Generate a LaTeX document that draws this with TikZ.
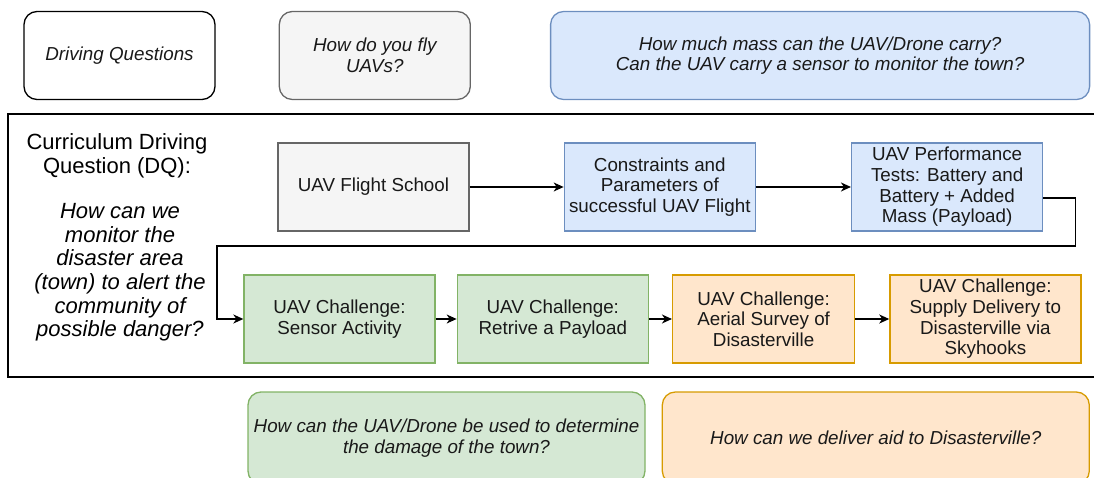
\documentclass[tikz,border=0pt]{standalone}
\usepackage{fontspec}
\setmainfont{Liberation Sans}
\usetikzlibrary{positioning,arrows.meta}
\definecolor{mygreyfill}{HTML}{F5F5F5}
\definecolor{mygreyline}{HTML}{666666}
\definecolor{mybluefill}{HTML}{DAE8FC}
\definecolor{myblueline}{HTML}{6C8EBF}
\definecolor{mygreenfill}{HTML}{D5E8D4}
\definecolor{mygreenline}{HTML}{82B366}
\definecolor{myorangefill}{HTML}{FFE6CC}
\definecolor{myorangeline}{HTML}{D79B00}
\newcommand*\boxfont{\fontsize{18.8}{20.7}\selectfont}
\newcommand*\titlefont{\fontsize{22}{23.6}\selectfont}
\tikzstyle{card}=[draw,line width=1.3pt,minimum width=191pt,minimum height=88pt,inner sep=2pt,align=center,font=\boxfont,text=black!90]
\tikzstyle{ask}=[card,rounded corners=13pt,font=\boxfont\itshape]
\tikzstyle{greybox}=[fill=mygreyfill,draw=mygreyline]
\tikzstyle{bluebox}=[fill=mybluefill,draw=myblueline]
\tikzstyle{greenbox}=[fill=mygreenfill,draw=mygreenline]
\tikzstyle{orangebox}=[fill=myorangefill,draw=myorangeline]
\tikzstyle{arr}=[-{Stealth[length=10pt,width=9pt,inset=3pt]},line width=1.4pt]

\begin{document}
\begin{tikzpicture}[x=1pt,y=-1pt]
      \useasboundingbox (0,0) rectangle (1094,478);
      % questions on top
      \node (Q) [ask] at (119.5,55.5) {Driving Questions};
      \node (R) [ask,greybox,right=63pt of Q] {How do you fly\\UAVs?};
      \node (S) [ask,bluebox,right=79pt of R,minimum width=539pt] {How much mass can the UAV/Drone carry?\\Can the UAV carry a sensor to monitor the town?};
      % curriculum frame
      \draw[line width=1.6pt] (8,114) rectangle (1104,377);
      \node (T) [font=\titlefont,align=center] at (117,156) {Curriculum Driving\\Question (DQ):};
      \node (U) [font=\titlefont\itshape,align=center] at (120,272.5) {How can we\\monitor the\\disaster area\\(town) to alert the\\community of\\possible danger?};
      \node (A) [card,greybox] at (373.5,187) {UAV Flight School};
      \node (B) [card,bluebox,right=94pt of A] {Constraints and\\Parameters of\\successful UAV Flight};
      \node (C) [card,bluebox,right=95pt of B] {UAV Performance\\Tests: Battery and\\Battery + Added\\Mass (Payload)};
      \node (D) [card,greenbox] at (339.5,319) {UAV Challenge:\\Sensor Activity};
      \node (E) [card,greenbox,right=21pt of D] {UAV Challenge:\\Retrive a Payload};
      \node (F) [card,orangebox,right=23pt of E,minimum width=182pt] {UAV Challenge:\\Aerial Survey of\\Disasterville};
      \node (G) [card,orangebox,right=34pt of F] {UAV Challenge:\\Supply Delivery to\\Disasterville via\\Skyhooks};
      \coordinate (K) at (217,246);
      \draw[arr] (A) -- (B);
      \draw[arr] (B) -- (C);
      \draw[arr] ([yshift=-11pt]C.east) -- ++(32,0) |- (K) |- (D.west);
      \draw[arr] (D) -- (E);
      \draw[arr] (E) -- (F);
      \draw[arr] (F) -- (G);
      % questions below
      \node (H) [ask,greenbox,minimum width=397pt,minimum height=92pt] at (446.5,438) {How can the UAV/Drone be used to determine\\the damage of the town?};
      \node (I) [ask,orangebox,right=16pt of H,minimum width=427pt,minimum height=92pt] {How can we deliver aid to Disasterville?};
    \end{tikzpicture}
\end{document}
